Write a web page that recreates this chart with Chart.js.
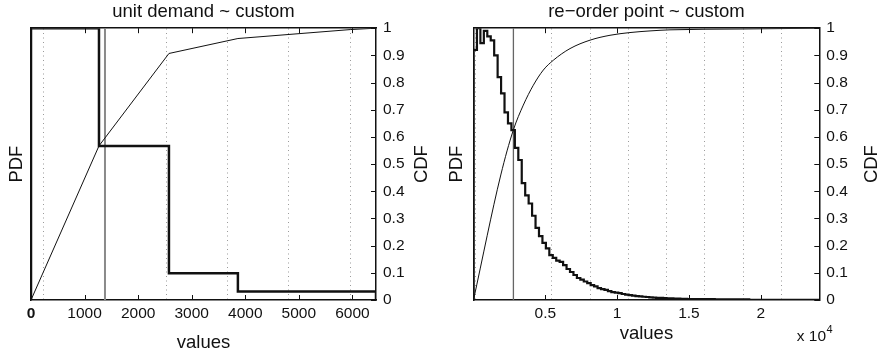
<!DOCTYPE html>
<html>
<head>
<meta charset="utf-8">
<script src="https://cdn.jsdelivr.net/npm/chart.js@4"></script>
<style>
  body { margin: 0; background: #fff; width: 881px; height: 355px; position: relative; overflow: hidden; }
  canvas { position: absolute; top: 0; }
  #demand-chart { left: 0; }
  #reorder-chart { left: 440px; }
</style>
</head>
<body>
<canvas id="demand-chart" width="440" height="355"></canvas>
<canvas id="reorder-chart" width="441" height="355"></canvas>
<script>
// left panel: unit demand
const demandEdges = [0, 1269, 2575, 3862, 6440];
const demandPdf = [1.0, 0.567, 0.098, 0.031];
const demandCdfX = [0, 1269, 2575, 3862, 5965, 6440];
const demandCdfY = [0, 0.567, 0.907, 0.962, 0.995, 1.0];
const demandMean = 1381;
const demandGrid = [237, 1381, 2525, 3670, 4814, 5958];
const demandTicks = [0, 1000, 2000, 3000, 4000, 5000, 6000];
const demandTickLabels = ['0', '1000', '2000', '3000', '4000', '5000', '6000'];

// right panel: re-order point (histogram, bins of 240)
const reorderBinWidth = 240;
const reorderPdf = [
    0.92, 1.0, 0.945, 0.99, 0.97, 0.955, 0.90, 0.82, 0.76, 0.69,
    0.65, 0.625, 0.56, 0.515, 0.43, 0.385, 0.355, 0.31, 0.265, 0.235,
    0.21, 0.19, 0.165, 0.155, 0.145, 0.14, 0.128, 0.114, 0.103, 0.092,
    0.081, 0.075, 0.068, 0.062, 0.055, 0.05, 0.044, 0.04, 0.037, 0.033,
    0.029, 0.027, 0.025, 0.022, 0.020, 0.018, 0.016, 0.014, 0.013, 0.012,
    0.011, 0.010, 0.009, 0.008, 0.008, 0.007, 0.006, 0.006, 0.005, 0.005,
    0.004, 0.004, 0.003, 0.003, 0.003, 0.003, 0.003, 0.003, 0.003, 0.003,
    0.002, 0.002, 0.002, 0.002, 0.002, 0.002, 0.002, 0.002, 0.002, 0.002,
    0.001, 0.001, 0.001, 0.001, 0.001, 0.001, 0.001, 0.001, 0.001, 0.001,
    0.001, 0.001, 0.001, 0.001, 0.001, 0.001, 0.001, 0.001, 0.001, 0.001
];
const reorderCdfX = [0, 1900, 2772, 3468, 4164, 4861, 5557, 6720, 8113, 9506, 10898, 12291, 13684, 18560, 24080];
const reorderCdfY = [0, 0.46, 0.625, 0.717, 0.790, 0.846, 0.882, 0.925, 0.956, 0.974, 0.984, 0.990, 0.994, 0.997, 1.0];
const reorderMean = 2779;
const reorderGrid = [112, 2779, 5446, 8113, 10780, 13447, 16114, 18781, 21448];
const reorderTicks = [5000, 10000, 15000, 20000];
const reorderTickLabels = ['0.5', '1', '1.5', '2'];

const cdfTicks = [0, 0.1, 0.2, 0.3, 0.4, 0.5, 0.6, 0.7, 0.8, 0.9, 1];

const FONT = 'Liberation Sans, Arial, Helvetica, sans-serif';
const INK = '#111';
Chart.defaults.font.family = FONT;
Chart.defaults.color = INK;

// inward tick marks on bottom/top and on the CDF side, plus the extra texts
const decorations = {
    id: 'decorations',
    afterDraw(chart, args, opts) {
        const { ctx, chartArea: a, scales } = chart;
        ctx.save();
        ctx.strokeStyle = INK;
        ctx.lineWidth = 1;
        ctx.beginPath();
        scales.x.ticks.forEach(t => {
            const px = Math.round(scales.x.getPixelForValue(t.value)) + 0.5;
            ctx.moveTo(px, a.bottom); ctx.lineTo(px, a.bottom - 5);
            ctx.moveTo(px, a.top); ctx.lineTo(px, a.top + 5);
        });
        scales.yCdf.ticks.forEach(t => {
            const py = Math.round(scales.yCdf.getPixelForValue(t.value)) + 0.5;
            ctx.moveTo(a.right, py); ctx.lineTo(a.right - 5, py);
        });
        ctx.stroke();

        // CDF label reads bottom to top
        ctx.fillStyle = INK;
        ctx.font = '18.5px ' + FONT;
        ctx.textAlign = 'center';
        ctx.textBaseline = 'middle';
        ctx.translate(opts.cdfX, (a.top + a.bottom) / 2);
        ctx.rotate(-Math.PI / 2);
        ctx.fillText('CDF', 0, 0);
        ctx.setTransform(1, 0, 0, 1, 0, 0);

        if (opts.exponent) {
            ctx.textAlign = 'left';
            ctx.textBaseline = 'alphabetic';
            ctx.font = '15.5px ' + FONT;
            ctx.fillText('x 10', opts.exponent.x, opts.exponent.y);
            const w = ctx.measureText('x 10').width;
            ctx.font = '11px ' + FONT;
            ctx.fillText('4', opts.exponent.x + w + 0.5, opts.exponent.y - 8);
        }
        ctx.restore();
    }
};

function panelOptions(p) {
    return {
        responsive: false,
        animation: false,
        plugins: {
            legend: { display: false },
            tooltip: { enabled: false },
            title: {
                display: true,
                text: p.title,
                fullSize: false,
                color: INK,
                font: { size: 18.5, weight: 'normal' },
                padding: { top: 1, bottom: 5 }
            },
            decorations: { cdfX: p.cdfX, exponent: p.exponent }
        },
        scales: {
            x: {
                type: 'linear',
                position: 'bottom',
                min: 0,
                max: p.xMax,
                afterBuildTicks: s => { s.ticks = p.ticks.map(v => ({ value: v })); },
                afterFit: s => { s.height = 55; },
                ticks: {
                    autoSkip: false,
                    maxRotation: 0,
                    padding: 4,
                    // the origin label of the left panel is printed twice in the original, so it looks bold
                    font: c => ({ size: 15.5, weight: (p.boldZero && c.index === 0) ? 'bold' : 'normal' }),
                    callback: (v, i) => p.tickLabels[i]
                },
                grid: { display: false, drawTicks: false },
                border: { color: INK, width: 1.5 },
                title: {
                    display: true,
                    text: 'values',
                    font: { size: 18.5 },
                    padding: { top: 0, bottom: p.valuesPad }
                }
            },
            xGrid: {
                type: 'linear',
                position: 'top',
                min: 0,
                max: p.xMax,
                afterBuildTicks: s => { s.ticks = p.grid.map(v => ({ value: v })); },
                afterFit: s => { s.height = 0; },
                ticks: { display: false },
                grid: { drawTicks: false, color: '#9a9a9a', lineWidth: 1 },
                border: { color: INK, width: 1.5, dash: [1, 3.5] }
            },
            yPdf: {
                type: 'linear',
                position: 'left',
                min: 0,
                max: 1,
                afterFit: s => { s.width = p.left; },
                ticks: { display: false },
                grid: { display: false, drawTicks: false },
                border: { color: INK, width: 1.5 },
                title: {
                    display: true,
                    text: 'PDF',
                    font: { size: 18.5 },
                    padding: { top: 5.5, bottom: 0 }
                }
            },
            yCdf: {
                type: 'linear',
                position: 'right',
                min: 0,
                max: 1,
                afterBuildTicks: s => { s.ticks = cdfTicks.map(v => ({ value: v })); },
                afterFit: s => { s.width = p.right; },
                ticks: { padding: 7, font: { size: 15.5 }, callback: v => String(v) },
                grid: { display: false, drawTicks: false },
                border: { color: INK, width: 1.5 }
            }
        }
    };
}

// stepped outline of a histogram: rise at the first edge, fall at the last
function stepPoints(edges, values) {
    const pts = [{ x: edges[0], y: 0 }];
    values.forEach((v, i) => pts.push({ x: edges[i], y: v }));
    pts.push({ x: edges[values.length], y: values[values.length - 1] });
    pts.push({ x: edges[values.length], y: 0 });
    return pts;
}

function panelData(edges, pdf, cdfX, cdfY, mean, meanColor, meanWidth, pdfWidth, smooth) {
    return {
        datasets: [
            {
                data: stepPoints(edges, pdf),
                yAxisID: 'yPdf',
                stepped: 'before',
                borderColor: INK,
                borderWidth: pdfWidth,
                pointRadius: 0
            },
            {
                data: cdfX.map((x, i) => ({ x: x, y: cdfY[i] })),
                yAxisID: 'yCdf',
                borderColor: INK,
                borderWidth: 1,
                pointRadius: 0,
                cubicInterpolationMode: smooth ? 'monotone' : 'default'
            },
            {
                data: [{ x: mean, y: 0 }, { x: mean, y: 1 }],
                yAxisID: 'yCdf',
                borderColor: meanColor,
                borderWidth: meanWidth,
                pointRadius: 0
            }
        ]
    };
}

const reorderEdges = [];
for (let i = 0; i <= reorderPdf.length; i++) reorderEdges.push(i * reorderBinWidth);

new Chart(document.getElementById('demand-chart'), {
    type: 'line',
    data: panelData(demandEdges, demandPdf, demandCdfX, demandCdfY, demandMean, '#8a8a8a', 2, 2.5, false),
    options: panelOptions({
        title: 'unit demand ~ custom',
        xMax: 6440,
        ticks: demandTicks,
        tickLabels: demandTickLabels,
        boldZero: true,
        grid: demandGrid,
        left: 31,
        right: 64,
        valuesPad: 1,
        cdfX: 421.5
    }),
    plugins: [decorations]
});

new Chart(document.getElementById('reorder-chart'), {
    type: 'line',
    data: panelData(reorderEdges, reorderPdf, reorderCdfX, reorderCdfY, reorderMean, '#666', 1.3, 2.2, true),
    options: panelOptions({
        title: 're\u2212order point ~ custom',
        xMax: 24080,
        ticks: reorderTicks,
        tickLabels: reorderTickLabels,
        grid: reorderGrid,
        left: 33.5,
        right: 61.7,
        valuesPad: 10,
        cdfX: 432,
        exponent: { x: 356.7, y: 341 }
    }),
    plugins: [decorations]
});
</script>
</body>
</html>
